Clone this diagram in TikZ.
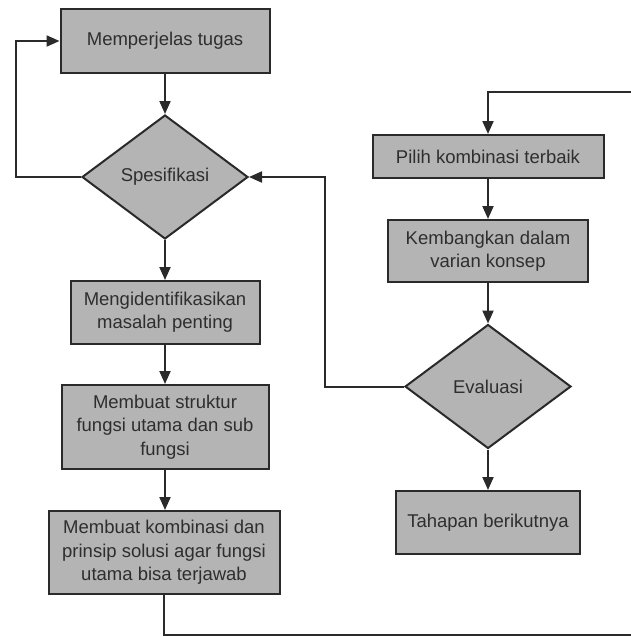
\documentclass[tikz,border=0pt]{standalone}
\usepackage{fontspec}
\setmainfont{Liberation Sans}
\usetikzlibrary{shapes.geometric,arrows.meta}
\definecolor{fillc}{HTML}{B4B4B4}
\definecolor{linec}{HTML}{2A2A2A}
\definecolor{textc}{HTML}{2E2E2E}
\begin{document}
\begin{tikzpicture}[x=1pt,y=-1pt,
  every node/.style={text=textc, font=\fontsize{18.5}{23.3}\selectfont, align=center},
  stepbox/.style={draw=linec, fill=fillc, line width=2pt, rectangle, inner sep=0pt},
  decision/.style={draw=linec, fill=fillc, line width=2pt, diamond, inner sep=0pt, aspect=1.34, minimum width=166pt, minimum height=124pt},
  conn/.style={draw=linec, line width=2pt},
  arr/.style={conn, -{Triangle[length=13pt,width=11pt]}}]
\useasboundingbox (0,0) rectangle (631,637);
% left column
\node[stepbox, minimum width=209pt, minimum height=64pt] (tugas) at (165,41) {Memperjelas tugas};
\node[decision] (spek) at (165,177) {Spesifikasi};
\node[stepbox, minimum width=189pt, minimum height=63pt] (ident) at (165,312.5) {Mengidentifikasikan\\masalah penting};
\node[stepbox, minimum width=207pt, minimum height=84pt] (struk) at (165,427) {Membuat struktur\\fungsi utama dan sub\\fungsi};
\node[stepbox, minimum width=231pt, minimum height=83pt] (komb) at (164,552.5) {Membuat kombinasi dan\\prinsip solusi agar fungsi\\utama bisa terjawab};
% right column
\node[stepbox, minimum width=231pt, minimum height=43pt] (pilih) at (488,156.5) {Pilih kombinasi terbaik};
\node[stepbox, minimum width=200pt, minimum height=62pt] (kemb) at (488,251) {Kembangkan dalam\\varian konsep};
\node[decision] (eval) at (488,386.5) {Evaluasi};
\node[stepbox, minimum width=184pt, minimum height=63pt] (tahap) at (488,522.5) {Tahapan berikutnya};
% free ends at the right edge
\coordinate (topend) at (632,92);
\coordinate (botend) at (632,635);
% connectors
\draw[arr] (tugas.south) -- (spek.north);
\draw[arr] (spek.south) -- (ident.north);
\draw[arr] (ident.south) -- (struk.north);
\draw[arr] (struk.south) -- (struk.south |- komb.north);
\draw[conn] (komb.south) |- (botend);
\draw[arr] (topend) -| (pilih.north);
\draw[arr] (pilih.south) -- (kemb.north);
\draw[arr] (kemb.south) -- (eval.north);
\draw[arr] (eval.south) -- (tahap.north);
\draw[arr] (eval.west) -- (325,386.5) |- (spek.east);
\draw[arr] (spek.west) -- (16,177) |- (tugas.west);
\end{tikzpicture}
\end{document}
